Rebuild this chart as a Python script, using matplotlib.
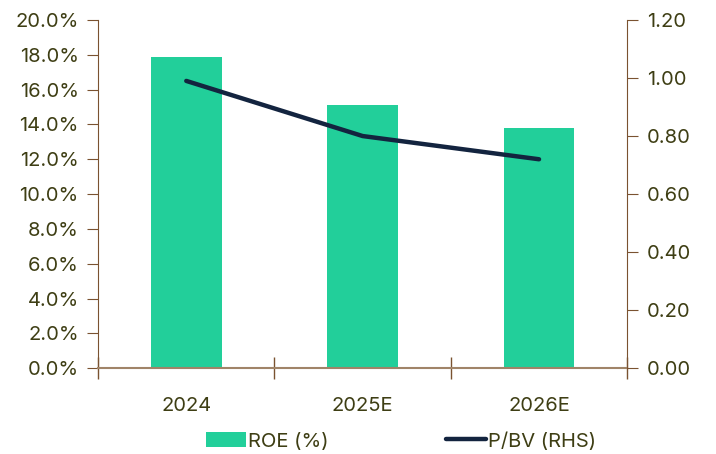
import matplotlib
matplotlib.use('Agg')
import matplotlib.pyplot as plt
from matplotlib.ticker import FuncFormatter, MultipleLocator, FixedLocator

years = ['2024', '2025E', '2026E']
roe = [17.9, 15.1, 13.8]
pbv = [0.99, 0.80, 0.72]

bar_col = '#22CF9A'
line_col = '#13243F'
spine_col = '#7A5230'
txt_col = '#3E3E14'

plt.rcParams['font.family'] = ['Inter', 'DejaVu Sans']

fig = plt.figure(figsize=(7.16, 4.54), dpi=100)
ax = fig.add_axes([0.137, 0.189, 0.739, 0.767])
ax2 = ax.twinx()

x = list(range(len(years)))
bars = ax.bar(x, roe, width=0.4, color=bar_col, label='ROE (%)', zorder=2)
ln, = ax2.plot(x, pbv, color=line_col, lw=3.2, solid_capstyle='round', label='P/BV (RHS)', zorder=3)

ax.set_xlim(-0.5, 2.5)
ax.set_ylim(0, 20)
ax2.set_ylim(0, 1.2)
ax.yaxis.set_major_locator(MultipleLocator(2))
ax.yaxis.set_major_formatter(FuncFormatter(lambda v, p: f'{v:.1f}%'))
ax2.yaxis.set_major_locator(MultipleLocator(0.2))
ax2.yaxis.set_major_formatter(FuncFormatter(lambda v, p: f'{v:.2f}'))

fs = 14.5
ax.set_xticks(x)
ax.set_xticklabels(years)
ax.xaxis.set_minor_locator(FixedLocator([-0.5, 0.5, 1.5, 2.5]))
ax.tick_params(axis='x', which='major', length=0, pad=21, labelsize=fs, labelcolor=txt_col)
ax.tick_params(axis='x', which='minor', length=16, direction='inout', color=spine_col, width=1)
ax.tick_params(axis='y', length=8, color=spine_col, labelsize=fs, labelcolor=txt_col, pad=6)
ax2.tick_params(axis='y', length=8, color=spine_col, labelsize=fs, labelcolor=txt_col, pad=6)

for a in (ax, ax2):
    a.spines['top'].set_visible(False)
    for s in ('left', 'right', 'bottom'):
        a.spines[s].set_color(spine_col)
ax.spines['bottom'].set_color('#A08468')
ax.spines['bottom'].set_linewidth(1.5)
ax.spines['right'].set_visible(False)
ax2.spines['left'].set_visible(False)
ax2.spines['bottom'].set_visible(False)

fig.legend([bars, ln], ['ROE (%)', 'P/BV (RHS)'], loc='center', bbox_to_anchor=(0.56, 0.028),
           ncol=2, frameon=False, fontsize=fs, labelcolor=txt_col, columnspacing=5.8,
           handlelength=2.0, handletextpad=0.1)

fig.savefig('out.png', dpi=100)
